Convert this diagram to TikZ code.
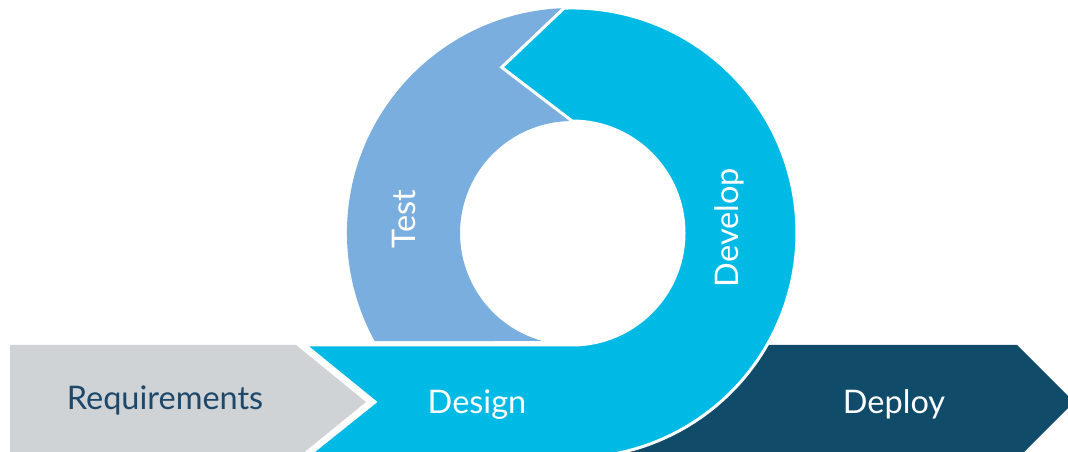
\documentclass[tikz,border=0pt]{standalone}
\usepackage{fontspec}
\setmainfont{Lato}
\definecolor{reqgray}{RGB}{208,211,214}
\definecolor{designcyan}{RGB}{0,186,230}
\definecolor{testblue}{RGB}{122,174,222}
\definecolor{deploynavy}{RGB}{16,75,105}
\definecolor{reqtext}{RGB}{30,72,105}
\begin{document}
\begin{tikzpicture}[x=1pt, y=1pt, line join=miter, stagetext/.style={font=\fontsize{32.5}{38}\selectfont, text=white, inner sep=0pt}, whitegap/.style={draw=white, line width=3pt}]
		\clip (0, 0) rectangle (1068, 452);
		
		% Requirements
		\fill[reqgray] (10, 107) -- (296, 107) -- (366, 50) -- (296, -7) -- (10, -7) -- cycle;
		\node[stagetext, text=reqtext] (req) at (165, 52) {Requirements};
		
		% Deploy
		\fill[deploynavy] (600, 107) -- (1017, 107) -- (1074, 50) -- (1017, -7) -- (600, -7) -- cycle;
		\node[stagetext] (deploy) at (894, 48) {Deploy};
		
		% Test
		\fill[testblue] (501.7, 384.7) -- (564.1, 443.9) arc[start angle=92, end angle=208.7, radius=225] -- (542.3, 111) arc[start angle=254.6, end angle=90, radius=112] -- cycle;
		\node[stagetext, rotate=90] (test) at (404, 233) {Test};
		
		% Design and Develop
		\fill[designcyan, whitegap] (305, 107) -- (572, 107) arc[start angle=-90, end angle=90, radius=112] -- (501.7, 384.7) -- (564.1, 443.9) arc[start angle=92, end angle=-90, radius=225] -- (305, -6) -- (375, 50) -- cycle;
		\node[stagetext] (design) at (477, 47) {Design};
		\node[stagetext, rotate=90] (develop) at (729, 224.5) {Develop};
		
	\end{tikzpicture}
\end{document}
